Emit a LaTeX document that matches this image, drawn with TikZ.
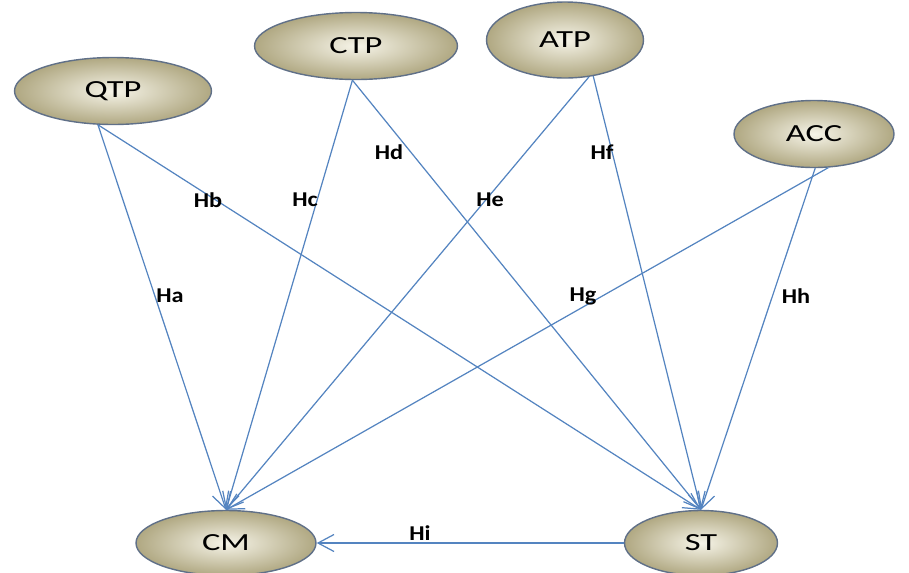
\documentclass[tikz,border=0pt]{standalone}
\usepackage{graphicx}
\usepackage{fontspec}
\setmainfont{Carlito}
\usetikzlibrary{arrows.meta,shapes.geometric}

\definecolor{edgeblue}{RGB}{84,132,192}
\definecolor{rimgrey}{RGB}{96,112,136}
\definecolor{tancore}{RGB}{246,244,232}
\definecolor{tanrim}{RGB}{176,168,130}

\newcommand{\widetxt}[1]{\scalebox{1.4}[1]{#1}}
\newcommand{\hyptxt}[1]{\scalebox{1.15}[1]{#1}}

\begin{document}
\begin{tikzpicture}[x=0.02cm,y=-0.02cm]
\tikzstyle{factor}=[ellipse, draw=rimgrey, line width=0.8pt, inner color=tancore, outer color=tanrim, font=\fontsize{14}{16}\selectfont]
\tikzstyle{link}=[draw=edgeblue, line width=0.7pt, -{Straight Barb[length=3.2mm,width=3.4mm]}]
\tikzstyle{hyp}=[font=\bfseries\fontsize{12}{14}\selectfont]

\useasboundingbox (0,0) rectangle (909,572);

% constructs
\node[factor, minimum width=3.94cm, minimum height=1.34cm] (QTP) at (113,91) {\widetxt{QTP}};
\node[factor, minimum width=4.06cm, minimum height=1.34cm] (CTP) at (356,46) {\widetxt{CTP}};
\node[factor, minimum width=3.14cm, minimum height=1.52cm] (ATP) at (565,40) {\widetxt{ATP}};
\node[factor, minimum width=3.2cm, minimum height=1.34cm] (ACC) at (814,134) {\widetxt{ACC}};
\node[factor, minimum width=3.6cm, minimum height=1.3cm] (CM) at (226,543) {\widetxt{CM}};
\node[factor, minimum width=3.06cm, minimum height=1.3cm] (ST) at (701,543) {\widetxt{ST}};

% paths
\draw[link] (QTP.246) -- (CM.north);
\draw[link] (QTP.246) -- (ST.north);
\draw[link] (CTP.264) -- (CM.north);
\draw[link] (CTP.264) -- (ST.north);
\draw[link] (ATP.303) -- (CM.north);
\draw[link] (ATP.308) -- (ST.north);
\draw[link] (ACC.293) -- (CM.north);
\draw[link] (ACC.272) -- (ST.north);
\draw[link] (ST) -- (CM);

% hypotheses
\node[hyp] (Ha) at (170,296) {\hyptxt{Ha}};
\node[hyp] (Hb) at (208,200) {\hyptxt{Hb}};
\node[hyp] (Hc) at (305,200) {\hyptxt{Hc}};
\node[hyp] (Hd) at (389,152) {\hyptxt{Hd}};
\node[hyp] (He) at (490,200) {\hyptxt{He}};
\node[hyp] (Hf) at (602,152) {\hyptxt{Hf}};
\node[hyp] (Hg) at (583,296) {\hyptxt{Hg}};
\node[hyp] (Hh) at (796,296) {\hyptxt{Hh}};
\node[hyp] (Hi) at (420,533) {\hyptxt{Hi}};
\end{tikzpicture}
\end{document}
